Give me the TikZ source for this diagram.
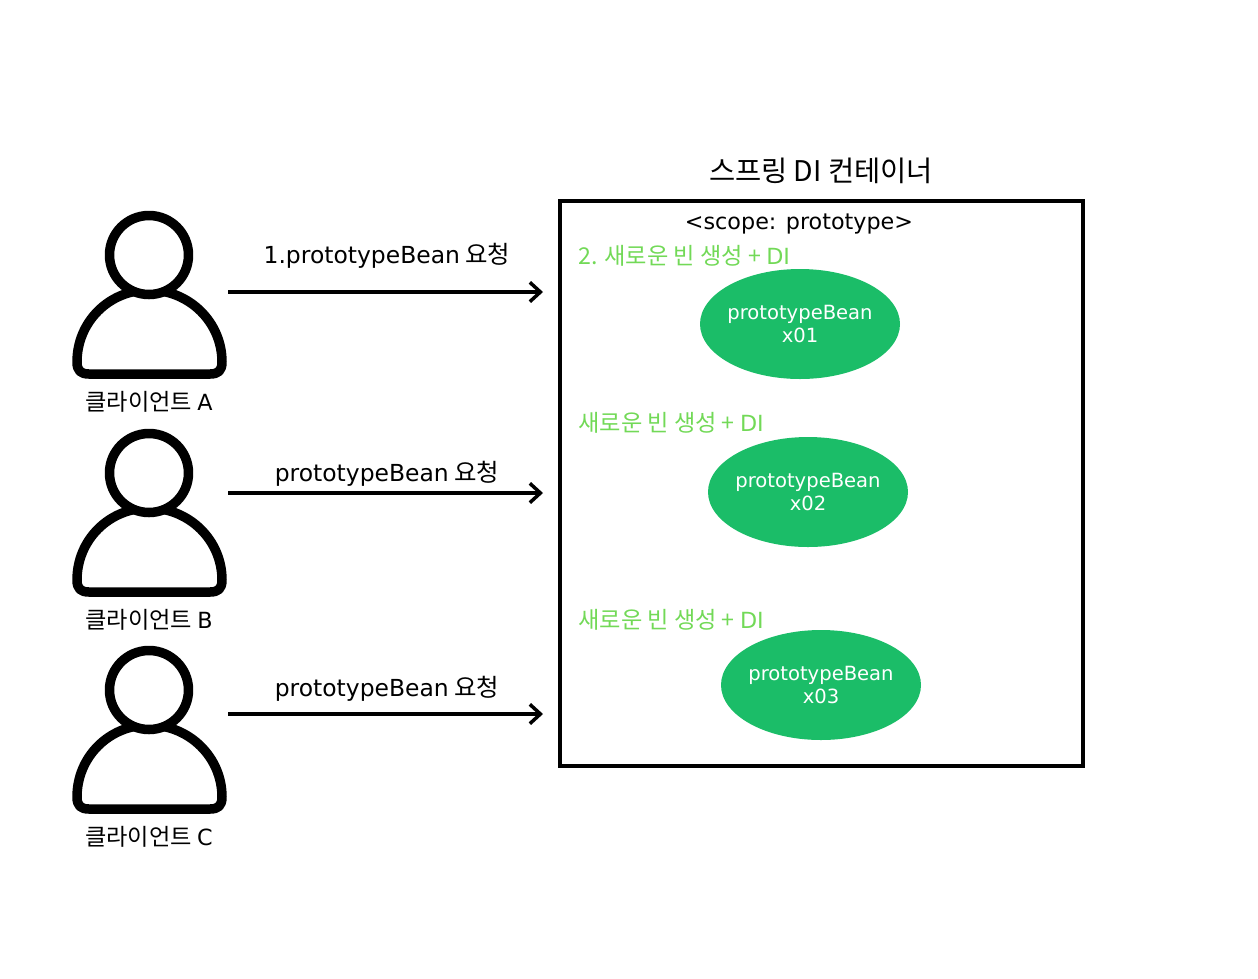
\documentclass[tikz,border=0pt]{standalone}
\usepackage{fontspec}
\setmainfont{Noto Sans CJK KR}
\newfontfamily\lat[Scale=0.96]{DejaVu Sans}
\usetikzlibrary{arrows.meta}
\usetikzlibrary{positioning,shapes.geometric}
\usepackage{xcolor}
\definecolor{beangreen}{HTML}{1BBD68}
\definecolor{newgreen}{HTML}{72D957}
\tikzset{
  lbl/.style={inner sep=0pt,font=\fontsize{13.2}{15}\selectfont},
  reqlbl/.style={inner sep=0pt,font=\fontsize{13.9}{15}\selectfont},
  newlbl/.style={lbl,anchor=west,text=newgreen},
  bean/.style={ellipse,fill=beangreen,text=white,minimum width=200*0.02cm,minimum height=110*0.02cm,inner sep=-3pt,align=center,font=\fontsize{11.6}{13.4}\selectfont\lat},
  req/.style={line width=4.5*0.02cm,-{Straight Barb[length=6pt,width=11pt,line width=3.5*0.02cm]}},
  person/.style={line width=9.5*0.02cm,line join=round}
}
\begin{document}
\begin{tikzpicture}[x=0.02cm,y=-0.02cm]
      \useasboundingbox (0,0) rectangle (1258,978);
      % clients
      \foreach \n/\y/\ay in {A/255/292,B/473/493,C/690/714}{
        \draw[person] (77,\y+107) .. controls (77,\y+67) and (109,\y+35) .. (149,\y+35)
          .. controls (189,\y+35) and (222,\y+67) .. (222,\y+107)
          .. controls (222,\y+116) and (218,\y+119) .. (210,\y+119) -- (89,\y+119)
          .. controls (81,\y+119) and (77,\y+116) .. (77,\y+107) -- cycle;
        \node[circle,draw,fill=white,person,minimum size=79*0.02cm,inner sep=0pt] (head\n) at (149,\y) {};
        \node[lbl] (client\n) at (149,\y+147) {클라이언트 {\lat \n}};
        \coordinate (from\n) at (228,\ay);
        \coordinate (to\n) at (543,\ay);
        \draw[req] (from\n) -- (to\n);
      }
      \node[reqlbl] (reqA) at (387,256) {{\lat 1.prototypeBean} 요청};
      \node[reqlbl] (reqB) at (387,474) {{\lat prototypeBean} 요청};
      \node[reqlbl] (reqC) at (387,689) {{\lat prototypeBean} 요청};
      % container
      \node[draw,line width=4*0.02cm,minimum width=523*0.02cm,minimum height=565*0.02cm] (container) at (821.5,483.5) {};
      \node[inner sep=0pt,font=\fontsize{16.2}{18}\selectfont] (title) at (821,171) {스프링 DI 컨테이너};
      \node[lbl] (scope) at (799,224) {\lat <scope: prototype>};
      \node[newlbl] (newA) at (578,256) {2. 새로운 빈 생성 + {\lat DI}};
      \node[newlbl] (newB) at (578,423) {새로운 빈 생성 + {\lat DI}};
      \node[newlbl] (newC) at (578,620) {새로운 빈 생성 + {\lat DI}};
      \node[bean] (beanA) at (800,324) {prototypeBean\\x01};
      \node[bean] (beanB) at (808,492) {prototypeBean\\x02};
      \node[bean] (beanC) at (821,685) {prototypeBean\\x03};
\end{tikzpicture}
\end{document}
